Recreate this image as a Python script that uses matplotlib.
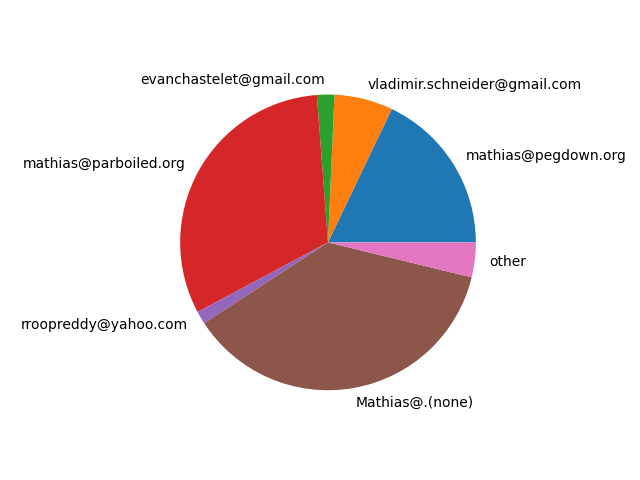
import matplotlib
matplotlib.use("Agg")
import matplotlib.pyplot as plt

# commit share per author (percent)
authors = [
    "mathias@pegdown.org",
    "vladimir.schneider@gmail.com",
    "evanchastelet@gmail.com",
    "mathias@parboiled.org",
    "rroopreddy@yahoo.com",
    "Mathias@.(none)",
    "other",
]
shares = [17.9, 6.4, 1.9, 31.6, 1.4, 37.0, 3.8]

fig, ax = plt.subplots(figsize=(6.4, 4.8), dpi=100)
ax.pie(shares, labels=authors)
ax.set_aspect("equal")

fig.savefig("out.png")
